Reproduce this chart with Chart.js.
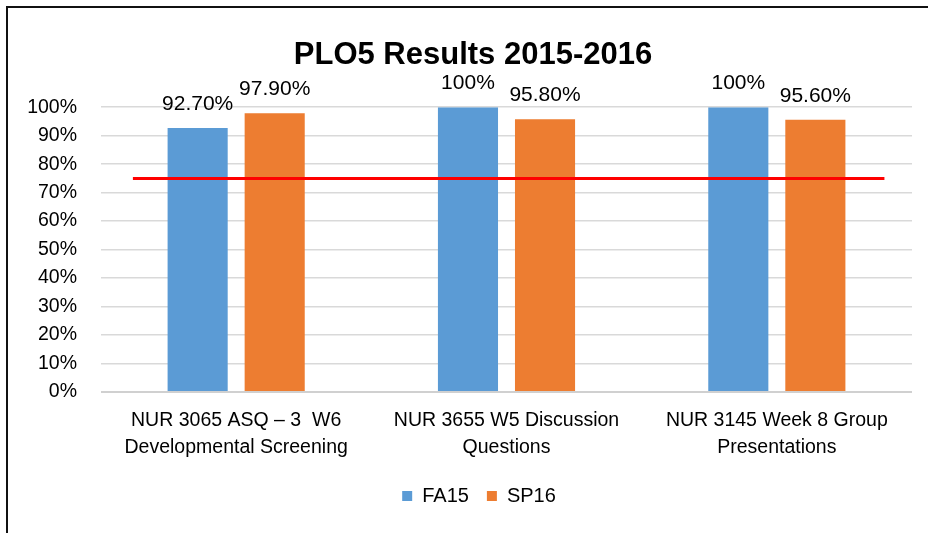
<!DOCTYPE html>
<html>
<head>
<meta charset="utf-8">
<script src="https://cdn.jsdelivr.net/npm/chart.js@4.4.1/dist/chart.umd.min.js"></script>
<style>
  html, body { margin: 0; padding: 0; background: #fff; }
  #wrap { position: relative; width: 928px; height: 533px; overflow: hidden; }
  #frame { position: absolute; left: 6px; top: 6px; width: 1000px; height: 600px;
           border-top: 2px solid #111; border-left: 2px solid #111; box-sizing: border-box; }
  #c { position: absolute; left: 0; top: 0; }
</style>
</head>
<body>
<div id="wrap">
  <div id="frame"></div>
  <canvas id="c" width="928" height="533"></canvas>
</div>
<script>
const titleText = 'PLO5 Results 2015-2016';
const categories = [
  ['NUR 3065 ASQ \u2013 3  W6', 'Developmental Screening'],
  ['NUR 3655 W5 Discussion', 'Questions'],
  ['NUR 3145 Week 8 Group', 'Presentations']
];
const seriesNames = ['FA15', 'SP16'];
const fa15 = [92.7, 100, 100];
const sp16 = [97.9, 95.8, 95.6];
const thresholdValue = 75;
const thresholdSpan = [-0.382, 2.398];   // start / end of the target line, in category-index units
const yTicks = [0, 10, 20, 30, 40, 50, 60, 70, 80, 90, 100];

const FONT = "'Liberation Sans', Arial, sans-serif";
const fmt = v => (Number.isInteger(v) ? v + '%' : v.toFixed(2) + '%');

// Red target line, positioned through the chart's own x and y scales
const targetLine = {
  id: 'targetLine',
  afterDatasetsDraw(chart) {
    const { ctx, scales: { x, y } } = chart;
    const py = y.getPixelForValue(thresholdValue);
    ctx.save();
    ctx.strokeStyle = '#FF0000';
    ctx.lineWidth = 3;
    ctx.beginPath();
    ctx.moveTo(x.getPixelForValue(thresholdSpan[0]), py);
    ctx.lineTo(x.getPixelForValue(thresholdSpan[1]), py);
    ctx.stroke();
    ctx.restore();
  }
};

const valueLabels = {
  id: 'valueLabels',
  afterDatasetsDraw(chart) {
    const ctx = chart.ctx;
    ctx.save();
    ctx.font = '21px ' + FONT;
    ctx.fillStyle = '#000';
    ctx.textAlign = 'center';
    ctx.textBaseline = 'alphabetic';
    chart.data.datasets.forEach((ds, di) => {
      const meta = chart.getDatasetMeta(di);
      meta.data.forEach((el, i) => {
        ctx.fillText(fmt(ds.data[i]), el.x, el.y - 18);
      });
    });
    ctx.restore();
  }
};

// Centre title and legend over the whole frame rather than the padded canvas
const boxShift = {
  id: 'boxShift',
  afterLayout(chart) {
    const t = chart.titleBlock;
    if (t) { t.left += 13; t.right += 13; }
    const l = chart.legend;
    if (l) { l.left += 19; l.right += 19; }
  }
};

new Chart(document.getElementById('c'), {
  type: 'bar',
  data: {
    labels: categories,
    datasets: [
      { label: seriesNames[0], data: fa15, backgroundColor: '#5B9BD5',
        categoryPercentage: 0.57, barPercentage: 0.78 },
      { label: seriesNames[1], data: sp16, backgroundColor: '#ED7D31',
        categoryPercentage: 0.57, barPercentage: 0.78 }
    ]
  },
  options: {
    responsive: false,
    animation: false,
    devicePixelRatio: 1,
    layout: { padding: { left: 8, right: 16, top: 10, bottom: 17 } },
    plugins: {
      title: {
        display: true, text: titleText, color: '#000',
        font: { family: FONT, size: 31, weight: 'bold', lineHeight: 1.2 },
        padding: { top: 27, bottom: 33 }
      },
      legend: {
        position: 'bottom',
        labels: {
          color: '#000', font: { family: FONT, size: 20 },
          boxWidth: 10, boxHeight: 10, padding: 18
        }
      },
      tooltip: { enabled: false }
    },
    scales: {
      x: {
        grid: { display: false },
        border: { display: false },
        ticks: { color: '#000', font: { family: FONT, size: 19.5, lineHeight: 1.38 },
                 padding: 7, maxRotation: 0, autoSkip: false },
        afterFit: s => { s.height = 76; }
      },
      y: {
        min: 0, max: 100,
        afterBuildTicks: s => { s.ticks = yTicks.map(v => ({ value: v })); },
        ticks: { color: '#000', font: { family: FONT, size: 19.5 }, padding: 24,
                 callback: v => v + '%' },
        grid: { drawTicks: false,
                color: c => (c.tick && c.tick.value === 0 ? '#d0d0d0' : '#d9d9d9'),
                lineWidth: c => (c.tick && c.tick.value === 0 ? 2 : 1.5) },
        border: { display: false },
        afterFit: s => { s.width = 93; }
      }
    }
  },
  plugins: [targetLine, valueLabels, boxShift]
});
</script>
</body>
</html>
